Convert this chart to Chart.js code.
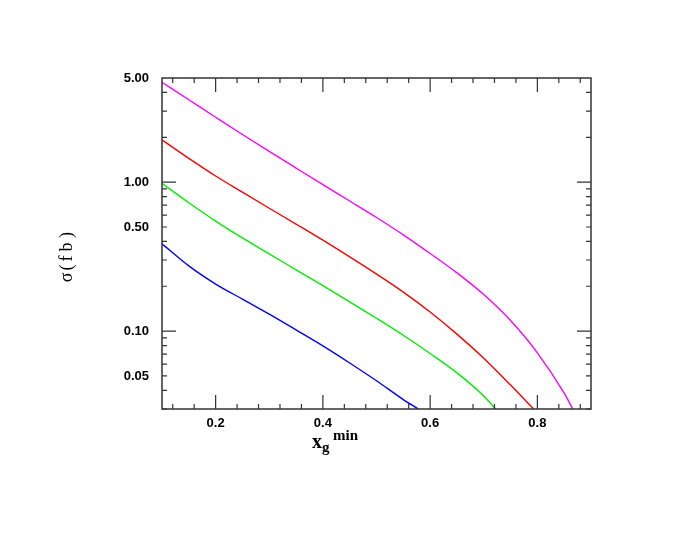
<!DOCTYPE html>
<html>
<head>
<meta charset="utf-8">
<script src="https://cdn.jsdelivr.net/npm/chart.js@4.4.1/dist/chart.umd.min.js"></script>
<style>
    html, body { margin: 0; padding: 0; background: #fff; }
    #wrap { width: 692px; height: 535px; }
</style>
</head>
<body>
<div id="wrap"><canvas id="sigmaChart" width="692" height="535"></canvas></div>
<script>
// values
const magentaX = [0.10, 0.15, 0.20, 0.25, 0.30, 0.35, 0.40, 0.45, 0.50, 0.55, 0.60, 0.65, 0.70, 0.75, 0.80, 0.85, 0.866];
const magentaY = [4.68, 3.573, 2.727, 2.087, 1.608, 1.243, 0.962, 0.747, 0.579, 0.443, 0.332, 0.246, 0.176, 0.1177, 0.0715, 0.0383, 0.03];

const redX = [0.10, 0.15, 0.20, 0.25, 0.30, 0.35, 0.40, 0.45, 0.50, 0.55, 0.60, 0.65, 0.70, 0.75, 0.793];
const redY = [1.92, 1.445, 1.099, 0.856, 0.668, 0.5225, 0.4076, 0.3149, 0.2415, 0.1827, 0.1343, 0.0954, 0.0657, 0.0434, 0.03];

const greenX = [0.10, 0.15, 0.20, 0.25, 0.30, 0.35, 0.40, 0.45, 0.50, 0.55, 0.60, 0.65, 0.70, 0.722];
const greenY = [0.98, 0.727, 0.548, 0.422, 0.3295, 0.2578, 0.2017, 0.1572, 0.122, 0.0938, 0.0707, 0.0524, 0.0367, 0.03];

const blueX = [0.10, 0.15, 0.20, 0.25, 0.30, 0.35, 0.40, 0.45, 0.50, 0.55, 0.578];
const blueY = [0.386, 0.2740, 0.2070, 0.1640, 0.1300, 0.1019, 0.0796, 0.0611, 0.0464, 0.0347, 0.03];

const yTickLabels = [0.05, 0.10, 0.50, 1.00, 5.00];
const xTickLabels = [0.2, 0.4, 0.6, 0.8];
const yMajorTicks = [0.1, 1];
const yMinorTicks = [0.03, 0.04, 0.05, 0.06, 0.07, 0.08, 0.09, 0.2, 0.3, 0.4, 0.5, 0.6, 0.7, 0.8, 0.9, 2, 3, 4];
const xMinorTicks = [0.12, 0.16, 0.24, 0.28, 0.32, 0.36, 0.44, 0.48, 0.52, 0.56, 0.64, 0.68, 0.72, 0.76, 0.84, 0.88];

function toPoints(xs, ys) {
    return xs.map((x, i) => ({ x: x, y: ys[i] }));
}

function lineSet(xs, ys, color) {
    return {
        data: toPoints(xs, ys),
        borderColor: color,
        borderWidth: 1.4,
        pointRadius: 0,
        fill: false,
        cubicInterpolationMode: 'monotone'
    };
}

// frame, inward ticks on all four sides, and the two axis titles
const framePlugin = {
    id: 'frame',
    afterDraw(chart) {
        const ctx = chart.ctx;
        const a = chart.chartArea;
        const xs = chart.scales.x;
        const ys = chart.scales.y;
        const longT = 14, shortT = 5;
        ctx.save();
        ctx.strokeStyle = '#333';
        ctx.lineWidth = 1.5;
        ctx.strokeRect(a.left, a.top, a.right - a.left, a.bottom - a.top);
        ctx.lineWidth = 1.2;
        ctx.beginPath();
        function xTick(v, len) {
            const px = xs.getPixelForValue(v);
            ctx.moveTo(px, a.bottom); ctx.lineTo(px, a.bottom - len);
            ctx.moveTo(px, a.top); ctx.lineTo(px, a.top + len);
        }
        function yTick(v, len) {
            const py = ys.getPixelForValue(v);
            ctx.moveTo(a.left, py); ctx.lineTo(a.left + len, py);
            ctx.moveTo(a.right, py); ctx.lineTo(a.right - len, py);
        }
        xTickLabels.forEach(v => xTick(v, longT));
        xMinorTicks.forEach(v => xTick(v, shortT));
        yMajorTicks.forEach(v => yTick(v, longT));
        yMinorTicks.forEach(v => yTick(v, shortT));
        ctx.stroke();

        // x title: x_g^min
        ctx.fillStyle = '#000';
        ctx.textBaseline = 'alphabetic';
        ctx.textAlign = 'left';
        ctx.font = 'bold 20px "Liberation Serif", serif';
        ctx.fillText('x', 312, 448);
        ctx.font = 'bold 15px "Liberation Serif", serif';
        ctx.fillText('g', 322, 452);
        ctx.font = 'bold 15px "Liberation Serif", serif';
        ctx.fillText('min', 333, 440);

        // y title: sigma(fb), letters spaced out like the original
        const yChars = ['\u03c3', '(', 'f', 'b', ')'];
        const yCentres = [277.5, 267.5, 258.5, 247, 235];
        ctx.font = '18px "Liberation Serif", serif';
        ctx.textAlign = 'center';
        yChars.forEach((ch, i) => {
            ctx.save();
            ctx.translate(72, yCentres[i]);
            ctx.rotate(-Math.PI / 2);
            ctx.fillText(ch, 0, 0);
            ctx.restore();
        });
        ctx.restore();
    }
};

const ctx = document.getElementById('sigmaChart').getContext('2d');
const sigmaChart = new Chart(ctx, {
    type: 'line',
    data: {
        datasets: [
            lineSet(magentaX, magentaY, '#ff00ff'),
            lineSet(redX, redY, '#ff0000'),
            lineSet(greenX, greenY, '#00ee00'),
            lineSet(blueX, blueY, '#0000ff')
        ]
    },
    options: {
        responsive: false,
        animation: false,
        layout: { padding: { left: 0, top: 78, right: 101, bottom: 0 } },
        plugins: {
            legend: { display: false },
            tooltip: { enabled: false }
        },
        scales: {
            x: {
                type: 'linear',
                min: 0.1,
                max: 0.9,
                grid: { display: false, drawTicks: false },
                border: { display: false },
                afterBuildTicks: s => { s.ticks = xTickLabels.map(v => ({ value: v })); },
                afterFit: s => { s.height = 126; },
                ticks: {
                    padding: 7,
                    color: '#000',
                    font: { family: '"Liberation Sans", sans-serif', size: 13, weight: 'bold' },
                    callback: v => v.toFixed(1)
                }
            },
            y: {
                type: 'logarithmic',
                min: 0.03,
                max: 5,
                grid: { display: false, drawTicks: false },
                border: { display: false },
                afterBuildTicks: s => { s.ticks = yTickLabels.map(v => ({ value: v })); },
                afterFit: s => { s.width = 162; },
                ticks: {
                    padding: 13,
                    color: '#000',
                    autoSkip: false,
                    font: { family: '"Liberation Sans", sans-serif', size: 13, weight: 'bold' },
                    callback: v => Number(v).toFixed(2)
                }
            }
        }
    },
    plugins: [framePlugin]
});
</script>
</body>
</html>
